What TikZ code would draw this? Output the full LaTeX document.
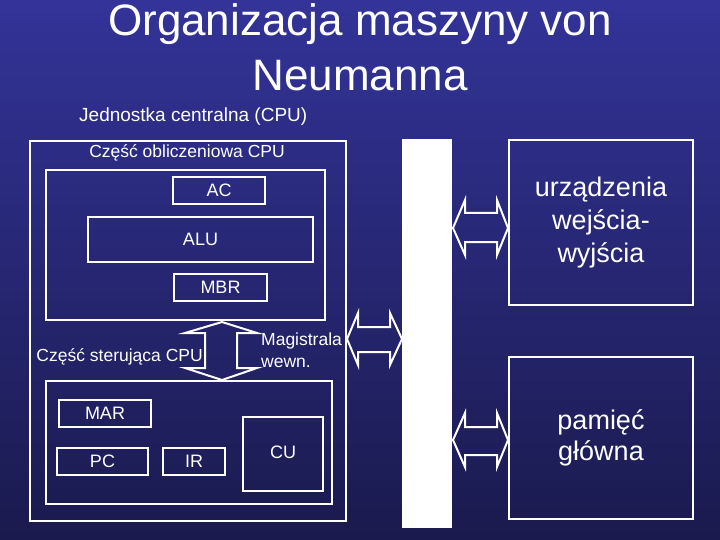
\documentclass[tikz,border=0pt]{standalone}
\usepackage{fontspec}
\setmainfont{Liberation Sans}
\definecolor{bgtop}{RGB}{51,51,153}
\definecolor{bgbot}{RGB}{26,26,78}
\begin{document}
\begin{tikzpicture}[x=1pt,y=-1pt,
  box/.style={draw=white,line width=2pt,inner sep=0pt,anchor=north west},
  lbl/.style={text=white,inner sep=0pt},
  barrow/.style={draw=white,line width=2pt,line join=miter},
  fs/.style={font=\fontsize{#1}{#1}\selectfont}]
\useasboundingbox (0,0) rectangle (720,540);
\shade[top color=bgtop,bottom color=bgbot] (0,0) rectangle (720,540);
% titles
\node[lbl,fs=44] (t1) at (360,24) {Organizacja maszyny von};
\node[lbl,fs=44] (t2) at (360,76) {Neumanna};
\node[lbl,fs=19,anchor=west] (jc) at (79,117) {Jednostka centralna (CPU)};
% CPU
\node[box,minimum width=316pt,minimum height=380pt] (cpu) at (29,140) {};
\node[lbl,fs=17.5] (co) at (187,153) {Część obliczeniowa CPU};
\node[box,minimum width=279pt,minimum height=150pt] (arith) at (45,169) {};
\node[box,minimum width=92pt,minimum height=27pt,text=white,fs=18] (ac) at (172,176) {AC};
\node[box,minimum width=225pt,minimum height=45pt,text=white,fs=18] (alu) at (87,216) {ALU};
\node[box,minimum width=93pt,minimum height=27pt,text=white,fs=18] (mbr) at (173,273) {MBR};
% control
\node[box,minimum width=286pt,minimum height=123pt] (ctrl) at (45,380) {};
\node[box,minimum width=92pt,minimum height=27pt,text=white,fs=18] (mar) at (58,399) {MAR};
\node[box,minimum width=91pt,minimum height=27pt,text=white,fs=18] (pc) at (56,447) {PC};
\node[box,minimum width=62pt,minimum height=27pt,text=white,fs=18] (ir) at (162,447) {IR};
\node[box,minimum width=80pt,minimum height=74pt,text=white,fs=18] (cu) at (242,416) {\raisebox{3pt}{CU}};
% internal bus arrow (vertical)
\draw[barrow] (222,322) -- (257,333) -- (237,333) -- (237,368) -- (257,368) -- (222,380)
  -- (185,368) -- (205,368) -- (205,333) -- (185,333) -- cycle;
\node[lbl,fs=17.5,anchor=east] (cs) at (203,357) {Część sterująca CPU};
\node[lbl,fs=17.5,anchor=west,align=left] (mw) at (261,350) {Magistrala\\[4pt]wewn.};
% system bus
\node[fill=white,inner sep=0pt,anchor=north west,minimum width=50pt,minimum height=389pt] (bus) at (402,139) {};
% CPU <-> bus
\draw[barrow] (347,339) -- (358,313) -- (358,327) -- (390,327) -- (390,313) -- (402,339)
  -- (390,365) -- (390,352) -- (358,352) -- (358,365) -- cycle;
% I/O
\node[box,minimum width=184pt,minimum height=165pt,text=white,align=center,fs=27] (io) at (508,139)
  {urządzenia\\[6pt]wejścia-\\[6pt]wyjścia};
\node[box,minimum width=184pt,minimum height=162pt,text=white,align=center,fs=27] (mem) at (508,356)
  {\raisebox{3pt}{pamięć}\\[4pt]\raisebox{3pt}{główna}};
% bus <-> I/O
\draw[barrow] (453,228) -- (465,200) -- (465,213) -- (497,213) -- (497,200) -- (508,228)
  -- (497,255) -- (497,242) -- (465,242) -- (465,255) -- cycle;
% bus <-> memory
\draw[barrow] (453,440) -- (465,413) -- (465,427) -- (497,427) -- (497,413) -- (508,440)
  -- (497,467) -- (497,455) -- (465,455) -- (465,467) -- cycle;
\end{tikzpicture}
\end{document}
